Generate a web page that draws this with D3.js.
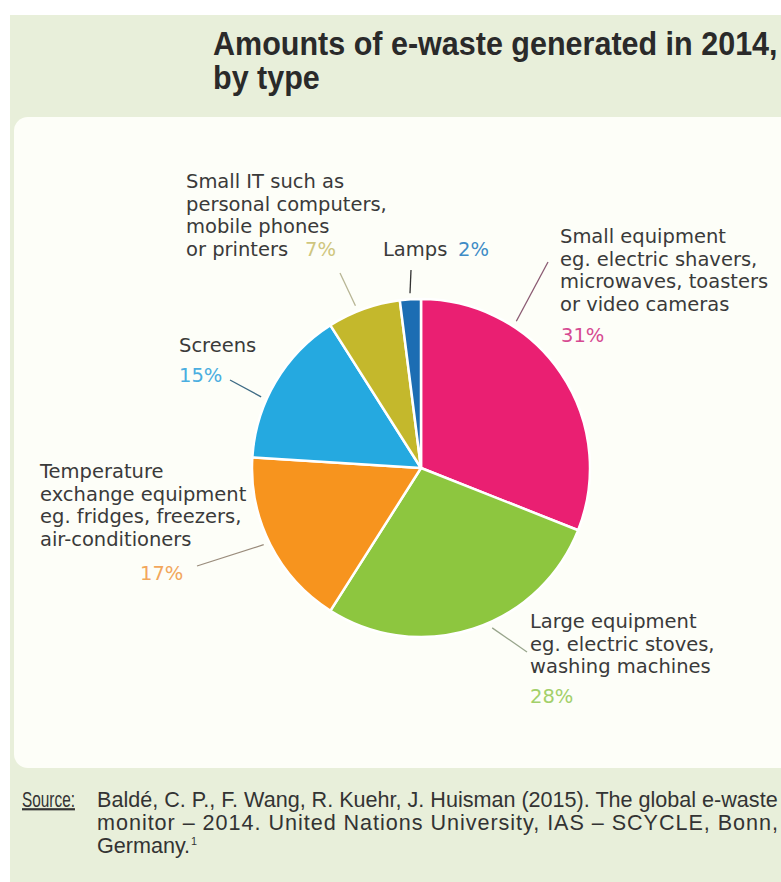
<!DOCTYPE html>
<html>
<head>
<meta charset="utf-8">
<script src="https://cdn.jsdelivr.net/npm/d3@7"></script>
<style>
  body { margin: 0; background: #fff; }
  svg { display: block; }
</style>
</head>
<body>
<div id="chart"></div>
<script>
    // e-waste generated in 2014 by type (share of total, %)
    var categories = ["Small equipment", "Large equipment", "Temperature exchange equipment", "Screens", "Small IT", "Lamps"]
    var shares = [31, 28, 17, 15, 7, 2]
    var sliceColors = ["#ea1f72", "#8dc63f", "#f7941e", "#25a9e0", "#c4b82c", "#1c6db3"]
    var percentColors = ["#d64a92", "#a3d06a", "#f2a75c", "#4aaee0", "#cfc67e", "#3f8cc6"]
    var labelLines = [
        ["Small equipment", "eg. electric shavers,", "microwaves, toasters", "or video cameras"],
        ["Large equipment", "eg. electric stoves,", "washing machines"],
        ["Temperature", "exchange equipment", "eg. fridges, freezers,", "air-conditioners"],
        ["Screens"],
        ["Small IT such as", "personal computers,", "mobile phones", "or printers"],
        ["Lamps"]
    ]
    var titleLines = ["Amounts of e-waste generated in 2014,", "by type"]
    var sourceLines = [
        "Baldé, C. P., F. Wang, R. Kuehr, J. Huisman (2015). The global e-waste",
        "monitor \u2013 2014. United Nations University, IAS \u2013 SCYCLE, Bonn,",
        "Germany."
    ]

    var width = 781, height = 882
    var cx = 421, cy = 468, radius = 169

    // where each label block sits, and where its leader line points
    var labelLayout = [
        {x: 560, y: 243, px: 561, py: 342, leadAngle: 33, leadOut: [548, 262], leadColor: "#8a5a72"},
        {x: 530, y: 628, px: 530, py: 703, leadAngle: 156, leadOut: [527, 652], leadColor: "#98a58c"},
        {x: 40, y: 478, px: 140, py: 580, leadAngle: 244, leadOut: [197, 566], leadColor: "#9a8c7c"},
        {x: 179, y: 352, px: 179, py: 382, leadAngle: 294, leadOut: [230, 380], leadColor: "#3d6a84"},
        {x: 186, y: 188, px: 305, py: 256, leadAngle: 338, leadOut: [340, 273], leadColor: "#b7b594"},
        {x: 383, y: 256, px: 458, py: 256, leadAngle: 356.4, leadOut: [411, 270], leadColor: "#333"}
    ]
    var lineGap = 22.5

    var svg = d3.select("#chart").append("svg")
        .attr("width", width)
        .attr("height", height)

    // background + white panel
    svg.append("rect")
        .attr("x", 10).attr("y", 15)
        .attr("width", width - 10).attr("height", height - 15)
        .attr("fill", "#e8efda")

    svg.append("rect")
        .attr("x", 14).attr("y", 117)
        .attr("width", width).attr("height", 651)
        .attr("rx", 14)
        .attr("fill", "#fdfef8")

    // title (narrow look: regular face squeezed horizontally)
    var title = svg.append("g")
        .attr("font-family", "'Liberation Sans', Arial, sans-serif")
        .attr("font-weight", "bold")
        .attr("font-size", 33)
        .attr("fill", "#2a2a2a")
    var titleText = title.selectAll("text")
        .data(titleLines)
        .join("text")
            .attr("x", 0)
            .attr("y", (d, i) => i * 34)
            .text(d => d)
    var titleScale = 565 / titleText.node().getComputedTextLength()
    title.attr("transform", `translate(213,55) scale(${titleScale},1)`)

    // pie
    var pie = d3.pie().sort(null).value(d => d)
    var arc = d3.arc().innerRadius(0).outerRadius(radius)
    var arcs = pie(shares)

    var chart = svg.append("g").attr("transform", `translate(${cx},${cy})`)

    chart.selectAll("path")
        .data(arcs)
        .join("path")
            .attr("d", arc)
            .attr("fill", (d, i) => sliceColors[i])
            .attr("stroke", "#fff")
            .attr("stroke-width", 2.5)
            .attr("stroke-linejoin", "round")

    // leader lines: inner end sits just outside the slice edge
    svg.selectAll("line.leader")
        .data(labelLayout)
        .join("line")
            .attr("class", "leader")
            .attr("x1", d => cx + (radius + 6) * Math.sin(d.leadAngle * Math.PI / 180))
            .attr("y1", d => cy - (radius + 6) * Math.cos(d.leadAngle * Math.PI / 180))
            .attr("x2", d => d.leadOut[0])
            .attr("y2", d => d.leadOut[1])
            .attr("stroke", d => d.leadColor)
            .attr("stroke-width", 1.3)

    // category labels
    var labels = svg.append("g")
        .attr("font-family", "'DejaVu Sans', sans-serif")
        .attr("font-size", 19.5)

    labels.selectAll("text.cat")
        .data(labelLines)
        .join("text")
            .attr("class", "cat")
            .attr("fill", "#3a3a3a")
            .each(function(lines, i) {
                var lay = labelLayout[i]
                d3.select(this).selectAll("tspan")
                    .data(lines)
                    .join("tspan")
                        .attr("x", lay.x)
                        .attr("y", (d, j) => lay.y + j * lineGap)
                        .text(d => d)
            })

    labels.selectAll("text.pct")
        .data(shares)
        .join("text")
            .attr("class", "pct")
            .attr("x", (d, i) => labelLayout[i].px)
            .attr("y", (d, i) => labelLayout[i].py)
            .attr("fill", (d, i) => percentColors[i])
            .text(d => d + "%")

    // source, regular face squeezed to a narrow look
    var source = svg.append("g")
        .attr("font-family", "'Liberation Sans', Arial, sans-serif")
        .attr("font-size", 22)
        .attr("fill", "#333")

    var srcLabel = source.append("text")
        .attr("x", 0).attr("y", 0)
        .attr("text-decoration", "underline")
        .text("Source:")
    var labelScale = 53 / srcLabel.node().getComputedTextLength()
    srcLabel.attr("transform", `translate(22,807) scale(${labelScale},1)`)

    var srcBody = source.append("g")
    var srcText = srcBody.selectAll("text")
        .data(sourceLines)
        .join("text")
            .attr("x", 0)
            .attr("y", (d, i) => i * 23)
            .text(d => d)
    var firstLen = srcText.nodes()[0].getComputedTextLength()
    var srcScale = 681 / firstLen
    srcText.filter((d, i) => i == 1)
        .attr("textLength", firstLen)
        .attr("lengthAdjust", "spacing")
    srcBody.attr("transform", `translate(97,807) scale(${srcScale},1)`)
    // footnote marker
    var lastLine = srcText.nodes()[2]
    srcBody.append("text")
        .attr("x", lastLine.getComputedTextLength() + 1)
        .attr("y", 2 * 23 - 8)
        .attr("font-size", 11)
        .text("1")
</script>
</body>
</html>
